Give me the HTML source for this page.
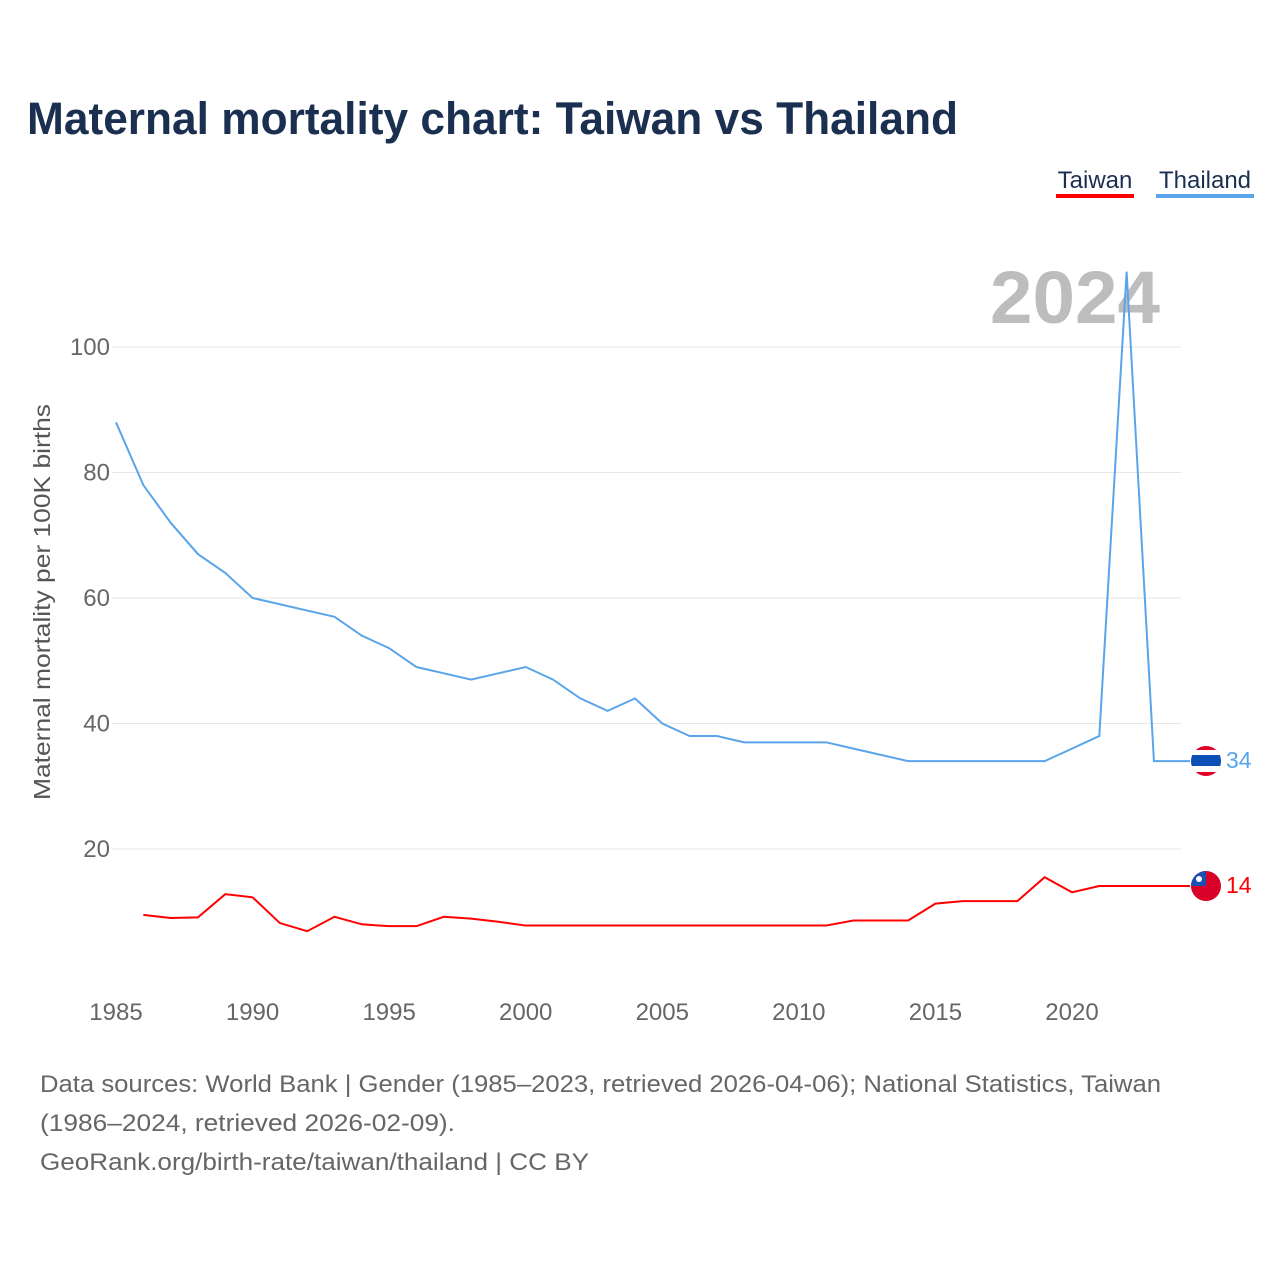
<!DOCTYPE html>
<html><head><meta charset="utf-8"><style>
body{margin:0;background:#fff;width:1280px;height:1280px;overflow:hidden;font-family:"Liberation Sans",sans-serif}
</style></head><body>
<svg width="1280" height="1280" xmlns="http://www.w3.org/2000/svg">
<text x="27" y="134" font-size="45" font-weight="bold" fill="#1b3050" textLength="931" lengthAdjust="spacingAndGlyphs">Maternal mortality chart: Taiwan vs Thailand</text>
<g><text x="1095" y="188" font-size="24" fill="#1b3050" text-anchor="middle">Taiwan</text><rect x="1056" y="194" width="78" height="4" fill="#ff0000"/></g>
<g><text x="1205" y="188" font-size="24" fill="#1b3050" text-anchor="middle">Thailand</text><rect x="1156" y="194" width="98" height="4" fill="#5aa5ea"/></g>
<text x="1160" y="323" font-size="74" font-weight="bold" fill="#bdbdbd" text-anchor="end" textLength="170" lengthAdjust="spacingAndGlyphs">2024</text>
<g id="grid"></g><g id="xt"></g>
<text transform="translate(50,602) rotate(-90)" font-size="23" fill="#555" text-anchor="middle" textLength="396" lengthAdjust="spacingAndGlyphs">Maternal mortality per 100K births</text>
<path id="th" fill="none" stroke="#5aa5ea" stroke-width="2"/>
<path id="tw" fill="none" stroke="#ff0000" stroke-width="2"/>
<g><clipPath id="c1"><circle cx="1206" cy="761" r="15"/></clipPath><g clip-path="url(#c1)"><rect x="1190" y="745" width="32" height="32" fill="#e0002a"/><rect x="1190" y="750" width="32" height="22" fill="#fff"/><rect x="1190" y="755" width="32" height="11" fill="#0a4fb5"/></g></g>
<text x="1226" y="768" font-size="23" fill="#5aa5ea">34</text>
<g><clipPath id="c2"><circle cx="1206" cy="886" r="15"/></clipPath><g clip-path="url(#c2)"><rect x="1190" y="870" width="32" height="32" fill="#d9002a"/><rect x="1190" y="870" width="16" height="16" fill="#1b4fb0"/><circle cx="1199" cy="879" r="3" fill="#fff"/></g></g>
<text x="1226" y="893" font-size="23" fill="#ff0000">14</text>
<g font-size="24" fill="#666">
<text x="40" y="1092" textLength="1121" lengthAdjust="spacingAndGlyphs">Data sources: World Bank | Gender (1985–2023, retrieved 2026-04-06); National Statistics, Taiwan</text>
<text x="40" y="1131" textLength="415" lengthAdjust="spacingAndGlyphs">(1986–2024, retrieved 2026-02-09).</text>
<text x="40" y="1170" textLength="549" lengthAdjust="spacingAndGlyphs">GeoRank.org/birth-rate/taiwan/thailand | CC BY</text>
</g>
</svg>
<script>
const yTicks=[20,40,60,80,100];
const xTicks=[1985,1990,1995,2000,2005,2010,2015,2020];
const thYears=[1985,1986,1987,1988,1989,1990,1991,1992,1993,1994,1995,1996,1997,1998,1999,2000,2001,2002,2003,2004,2005,2006,2007,2008,2009,2010,2011,2012,2013,2014,2015,2016,2017,2018,2019,2020,2021,2022,2023];
const thVals=[88,78,72,67,64,60,59,58,57,54,52,49,48,47,48,49,47,44,42,44,40,38,38,37,37,37,37,36,35,34,34,34,34,34,34,36,38,112,34];
const twYears=[1986,1987,1988,1989,1990,1991,1992,1993,1994,1995,1996,1997,1998,1999,2000,2001,2002,2003,2004,2005,2006,2007,2008,2009,2010,2011,2012,2013,2014,2015,2016,2017,2018,2019,2020,2021,2022,2023,2024];
const twVals=[9.5,9,9.1,12.8,12.3,8.2,6.9,9.2,8,7.7,7.7,9.2,8.9,8.4,7.8,7.8,7.8,7.8,7.8,7.8,7.8,7.8,7.8,7.8,7.8,7.8,8.6,8.6,8.6,11.3,11.7,11.7,11.7,15.5,13.1,14.1,14.1,14.1,14.1];
const X=y=>116+(y-1985)*27.314;
const Y=v=>974.5-v*6.275;
const NS='http://www.w3.org/2000/svg';
const g=document.getElementById('grid');
yTicks.forEach(t=>{
 const l=document.createElementNS(NS,'line');
 l.setAttribute('x1',112);l.setAttribute('x2',1181);l.setAttribute('y1',Y(t));l.setAttribute('y2',Y(t));
 l.setAttribute('stroke','#e6e6e6');
 
 
 g.appendChild(l);
 const tx=document.createElementNS(NS,'text');
 tx.setAttribute('x',110);tx.setAttribute('y',Y(t)+8);tx.setAttribute('text-anchor','end');
 tx.setAttribute('font-size','24');tx.setAttribute('fill','#666');tx.textContent=t;
 
 
 g.appendChild(tx);
});
const xt=document.getElementById('xt');
xTicks.forEach(t=>{
 const tx=document.createElementNS(NS,'text');
 tx.setAttribute('x',X(t));tx.setAttribute('y',1020);tx.setAttribute('text-anchor','middle');
 tx.setAttribute('font-size','24');tx.setAttribute('fill','#666');tx.textContent=t;
 
 
 xt.appendChild(tx);
});
const endX=1190;
let d=thYears.map((y,i)=>(i?'L':'M')+X(y)+' '+Y(thVals[i])).join(' ')+' L'+endX+' '+Y(thVals[thVals.length-1]);
document.getElementById('th').setAttribute('d',d);
d=twYears.map((y,i)=>(i?'L':'M')+X(y)+' '+Y(twVals[i])).join(' ')+' L'+endX+' '+Y(twVals[twVals.length-1]);
document.getElementById('tw').setAttribute('d',d);
</script>
</body></html>
